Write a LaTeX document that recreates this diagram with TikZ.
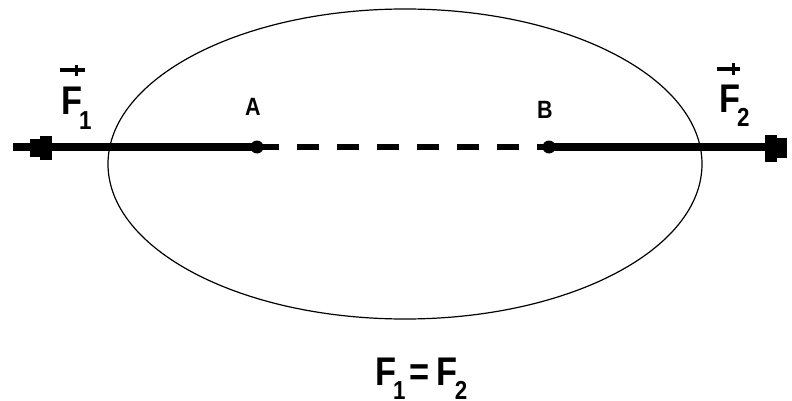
\documentclass[tikz,border=0pt]{standalone}
\usepackage{fontspec}
\setmainfont{Liberation Sans}[FakeStretch=0.86]
\usetikzlibrary{arrows.meta}
\newcommand\subx[1]{\kern-3pt\raisebox{-14pt}{\fontsize{26}{26}\selectfont #1}}
\begin{document}
\begin{tikzpicture}[x=1pt,y=-1pt,
  force/.style={line width=7.5pt},
  link/.style={line width=6pt, dash pattern=on 22pt off 18pt},
  pt/.style={circle,fill=black,inner sep=0pt,minimum size=13pt},
  lbl/.style={font=\bfseries\fontsize{25}{25}\selectfont, inner sep=0pt},
  flbl/.style={font=\bfseries\fontsize{40}{40}\selectfont, inner sep=0pt, anchor=base west},
  vecbar/.style={line width=3.5pt},
  vectick/.style={line width=3pt}]
\useasboundingbox (0,0) rectangle (792,401);
\fill[white] (0,0) rectangle (792,401);
% body outline
\draw[line width=1.2pt] (405,164) ellipse [x radius=297, y radius=155];
% points
\node[pt] (A) at (257,147) {};
\node[pt] (B) at (549,147) {};
\coordinate (L) at (13,147);
\coordinate (R) at (787,147);
% forces
\draw[force] (A.center) -- (L);
\draw[force] (B.center) -- (R);
\draw[link] (A.center) -- (B.center);
% arrow blocks
\fill (30,139) rectangle (52,157);
\fill (40,136) rectangle (52,160);
\fill (765,135) rectangle (777,162);
\fill (765,138) rectangle (787,158);
% labels
\node[lbl] (Alab) at (253,107) {A};
\node[lbl] (Blab) at (545,110) {B};
\node[flbl] (F1) at (61,115) {F\subx{1}};
\node[flbl] (F2) at (719,113) {F\subx{2}};
\node[flbl] (eq) at (375,385) {F\subx{1}\kern4pt=\kern7pt F\subx{2}};
% vector marks
\draw[vecbar] (60,70) -- (85,70);
\draw[vectick] (76,65) -- (76,76);
\draw[vecbar] (717,69) -- (740,69);
\draw[vectick] (733,63) -- (733,75);
\end{tikzpicture}
\end{document}
